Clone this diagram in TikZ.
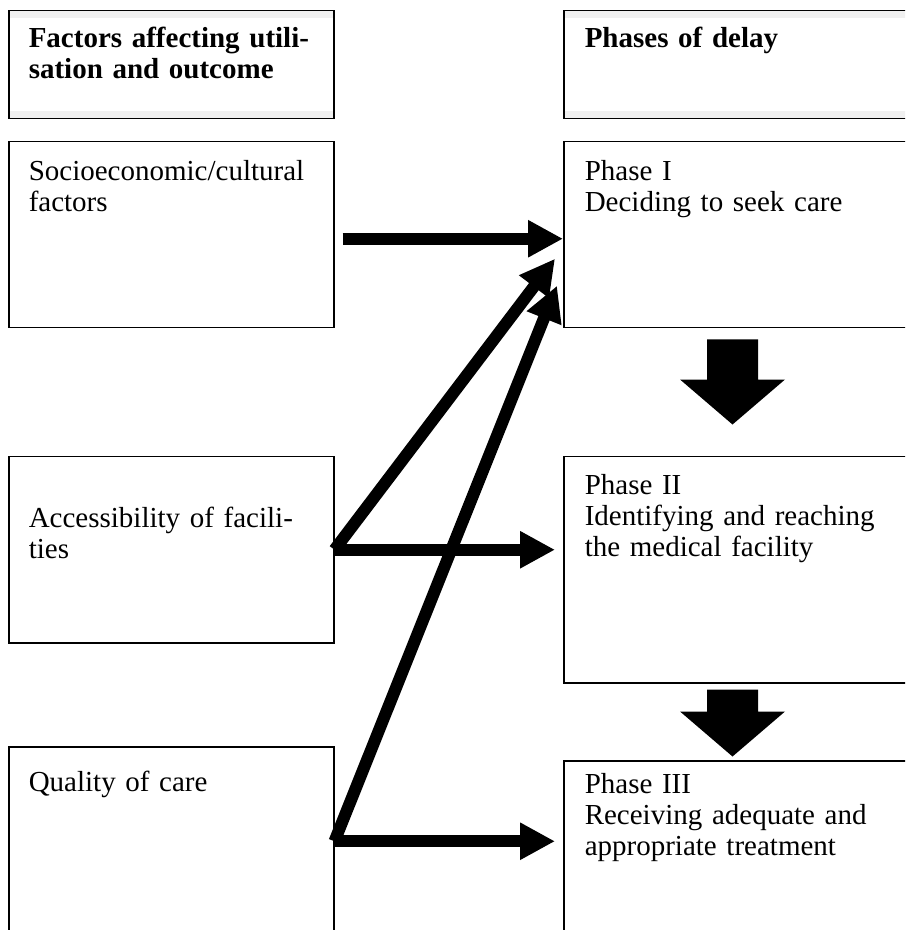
\documentclass[tikz,border=0pt]{standalone}
\usepackage{fontspec}
\setmainfont{Liberation Serif}
\usetikzlibrary{arrows.meta, positioning, calc}
\definecolor{ink} {HTML}{000000}
\definecolor{band}{HTML}{F0F0F0}
\newcommand{\fillline}[1]{\makebox[\linewidth][s]{#1}}
\tikzset{
  cell/.style  = {draw=ink, line width=0.6pt, anchor=north west,
                  inner xsep=8pt, inner ysep=0pt, text width=114pt,
                  align=left, font=\fontsize{11.6}{12.4}\selectfont},
  pcell/.style = {cell, inner xsep=8.4pt, text width=126.4pt},
  hcell/.style = {font=\fontsize{11.6}{12.4}\selectfont\bfseries,
                  path picture={
                    \fill[band] (path picture bounding box.north west)
                      rectangle ([yshift=-3pt]path picture bounding box.north east);
                    \fill[band] (path picture bounding box.south west)
                      rectangle ([yshift=3pt]path picture bounding box.south east);
                  }},
  arr/.style   = {-{Triangle[length=14pt, width=14pt]}, line width=4.8pt, ink},
  blockarr/.style = {fill=ink},
}

\begin{document}
\begin{tikzpicture}[x=0.4pt, y=-0.4pt]
  \clip (0,0) rectangle (905,930);

  % headers
  \node[cell, hcell, text height=14.8pt, text depth=28.4pt] (hfac) at (8,10)
    {\fillline{Factors affecting utili-}\\sation and outcome};
  \node[pcell, hcell, text height=14.8pt, text depth=28.4pt] (hdel) at (563,10)
    {Phases of delay};

  % factors column
  \node[cell, text height=15.6pt, text depth=58.8pt] (socio) at (8,141)
    {Socioeconomic/cultural\\factors};
  \node[cell, text height=28.4pt, text depth=46pt] (access) at (8,456)
    {\fillline{Accessibility of facili-}\\ties};
  \node[cell, text height=18pt, text depth=57.6pt] (quality) at (8,746)
    {Quality of care};

  % phases column
  \node[pcell, text height=15.6pt, text depth=58.8pt] (ph1) at (563,141)
    {Phase I\\Deciding to seek care};
  \node[pcell, text height=15.2pt, text depth=75.2pt] (ph2) at (563,456)
    {Phase II\\\fillline{Identifying and reaching}\\the medical facility};
  \node[pcell, text height=13.2pt, text depth=56.8pt] (ph3) at (563,760)
    {Phase III\\\fillline{Receiving adequate and}\\appropriate treatment};

  % factor -> phase arrows
  \draw[arr] ([xshift=3.2pt, yshift=-1.6pt]socio.east) -- ([yshift=-1.6pt]ph1.west);
  \draw[arr, shorten >=3.2pt] (access.east) -- (access.east -| ph2.west);
  \draw[arr, shorten >=3.2pt] (quality.east) -- (quality.east -| ph3.west);
  \draw[arr] (access.east) -- ([xshift=-3.2pt, yshift=-9.6pt]ph1.west);
  \draw[arr] (quality.east) -- ([xshift=-2.4pt, yshift=-20.4pt]ph1.west);

  % phase -> phase block arrows
  \foreach \p/\g/\s in {ph1/4.4/40, ph2/2.4/22}
    \fill[blockarr] ([xshift=57.6pt, yshift=-\g pt]\p.south west)
      -- ++(51,0) -- ++(0,\s) -- ++(27,0) -- ++(-52.5,45)
      -- ++(-52.5,-45) -- ++(27,0) -- cycle;

\end{tikzpicture}
\end{document}
